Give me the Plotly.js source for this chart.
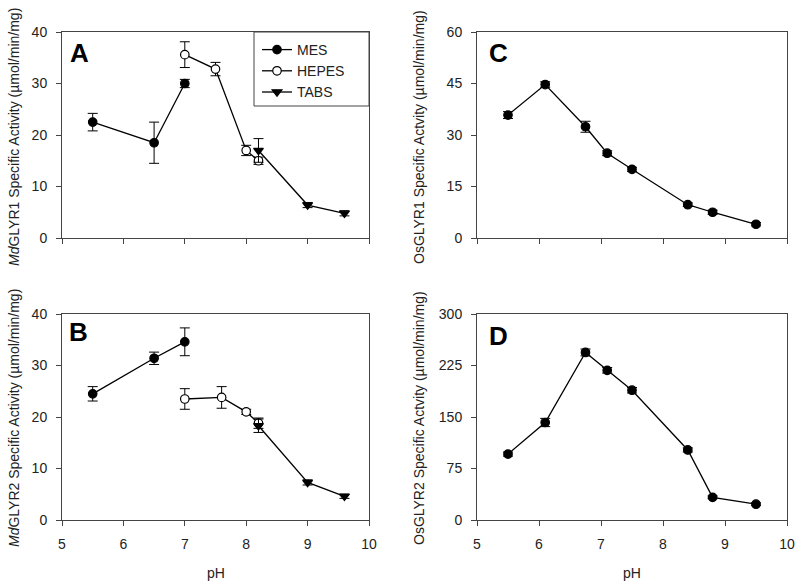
<!DOCTYPE html>
<html>
<head>
<meta charset="utf-8">
<script src="https://cdn.plot.ly/plotly-3.0.1.min.js"></script>
<style>html,body{margin:0;padding:0;background:#fff;}#chart{width:800px;height:586px;}</style>
</head>
<body>
<div id="chart"></div>
<script>
// ---- Panel A: MdGLYR1 ----
const A_mes_pH = [5.5, 6.5, 7.0];
const A_mes_val = [22.5, 18.5, 30.0];
const A_mes_err = [1.7, 4.0, 0.8];
const A_hepes_pH = [7.0, 7.5, 8.0, 8.2];
const A_hepes_val = [35.6, 32.8, 17.0, 15.0];
const A_hepes_err = [2.5, 1.3, 1.0, 0.7];
const A_tabs_pH = [8.2, 9.0, 9.6];
const A_tabs_val = [17.0, 6.4, 4.8];
const A_tabs_err = [2.3, 0.5, 0.5];

// ---- Panel B: MdGLYR2 ----
const B_mes_pH = [5.5, 6.5, 7.0];
const B_mes_val = [24.5, 31.4, 34.6];
const B_mes_err = [1.4, 1.2, 2.7];
const B_hepes_pH = [7.0, 7.6, 8.0, 8.2];
const B_hepes_val = [23.5, 23.8, 21.0, 18.8];
const B_hepes_err = [2.0, 2.1, 0.5, 1.0];
const B_tabs_pH = [8.2, 9.0, 9.6];
const B_tabs_val = [18.3, 7.3, 4.6];
const B_tabs_err = [1.3, 0.5, 0.4];

// ---- Panel C: OsGLYR1 ----
const C_pH = [5.5, 6.1, 6.75, 7.1, 7.5, 8.4, 8.8, 9.5];
const C_val = [35.8, 44.7, 32.4, 24.7, 20.0, 9.7, 7.5, 4.0];
const C_err = [1.0, 0.8, 1.6, 0.7, 0.6, 0.5, 0.6, 0.5];

// ---- Panel D: OsGLYR2 ----
const D_pH = [5.5, 6.1, 6.75, 7.1, 7.5, 8.4, 8.8, 9.5];
const D_val = [96, 142, 244, 218, 189, 102, 33, 23];
const D_err = [3, 6, 5, 4, 4, 3, 2, 2];

// ---- Axis ticks ----
const xTicks = [5, 6, 7, 8, 9, 10];
const yTicksA = [0, 10, 20, 30, 40];
const yTicksB = [0, 10, 20, 30, 40];
const yTicksC = [0, 15, 30, 45, 60];
const yTicksD = [0, 75, 150, 225, 300];

const legendNames = ['MES', 'HEPES', 'TABS'];

const LC = '#000';
function tr(x, y, e, xa, ya, sym, fill, name, show) {
  return {
    x: x, y: y, xaxis: xa, yaxis: ya, type: 'scatter', mode: 'lines+markers',
    name: name, showlegend: !!show, legendgroup: name,
    line: {color: LC, width: 1.3},
    marker: {symbol: sym, size: 8.5, color: fill, line: {color: LC, width: 1.2}},
    error_y: {type: 'data', array: e, visible: true, color: LC, thickness: 1, width: 5},
    cliponaxis: false
  };
}

const data = [
  tr(A_mes_pH, A_mes_val, A_mes_err, 'x', 'y', 'circle', '#000', legendNames[0], true),
  tr(A_hepes_pH, A_hepes_val, A_hepes_err, 'x', 'y', 'circle', '#fff', legendNames[1], true),
  tr(A_tabs_pH, A_tabs_val, A_tabs_err, 'x', 'y', 'triangle-down', '#000', legendNames[2], true),
  tr(B_mes_pH, B_mes_val, B_mes_err, 'x2', 'y2', 'circle', '#000', legendNames[0], false),
  tr(B_hepes_pH, B_hepes_val, B_hepes_err, 'x2', 'y2', 'circle', '#fff', legendNames[1], false),
  tr(B_tabs_pH, B_tabs_val, B_tabs_err, 'x2', 'y2', 'triangle-down', '#000', legendNames[2], false),
  tr(C_pH, C_val, C_err, 'x3', 'y3', 'circle', '#000', 'OsGLYR1', false),
  tr(D_pH, D_val, D_err, 'x4', 'y4', 'circle', '#000', 'OsGLYR2', false)
];

const FONT = 'Liberation Sans, Arial, sans-serif';
const axisCommon = {
  showline: true, mirror: true, linecolor: '#444', linewidth: 1,
  ticks: 'outside', ticklen: 5, tickcolor: '#444', tickwidth: 1,
  showgrid: false, zeroline: false, fixedrange: true,
  tickfont: {family: FONT, size: 14, color: '#222'}, ticklabelstandoff: 6
};
function xa(domain, anchor, labels) {
  return Object.assign({}, axisCommon, {
    domain: domain, anchor: anchor, range: [5, 10], tickmode: 'array',
    tickvals: xTicks, ticktext: xTicks.map(String), showticklabels: labels
  });
}
function ya(domain, anchor, ticks) {
  return Object.assign({}, axisCommon, {
    domain: domain, anchor: anchor, range: [ticks[0], ticks[ticks.length - 1]],
    tickmode: 'array', tickvals: ticks, ticktext: ticks.map(String)
  });
}

const xL = [62 / 800, 369 / 800];
const xR = [477 / 800, 787 / 800];
const yT = [1 - 238 / 586, 1 - 32 / 586];
const yB = [1 - 520 / 586, 1 - 314 / 586];

function ann(text, x, y, opts) {
  return Object.assign({
    text: text, x: x, y: y, xref: 'paper', yref: 'paper', showarrow: false,
    font: {family: FONT, size: 14, color: '#222'}, xanchor: 'center', yanchor: 'middle'
  }, opts || {});
}
const letterFont = {family: FONT, size: 26, color: '#000', weight: 'bold'};

const layout = {
  width: 800, height: 586,
  margin: {l: 0, r: 0, t: 0, b: 0},
  paper_bgcolor: '#fff', plot_bgcolor: '#fff',
  showlegend: true,
  legend: {
    x: 257 / 800, y: 1 - 34 / 586, xanchor: 'left', yanchor: 'top',
    borderwidth: 0, bgcolor: 'rgba(0,0,0,0)',
    font: {family: FONT, size: 14, color: '#222'},
    tracegroupgap: 0, itemclick: false, itemdoubleclick: false
  },
  shapes: [
    {type: 'rect', xref: 'paper', yref: 'paper', x0: 254 / 800, x1: 369 / 800,
     y0: 1 - 106 / 586, y1: 1 - 32 / 586, line: {color: '#444', width: 1}, fillcolor: '#fff', layer: 'below'}
  ],
  xaxis: xa(xL, 'y', false),
  yaxis: ya(yT, 'x', yTicksA),
  xaxis2: xa(xL, 'y2', true),
  yaxis2: ya(yB, 'x2', yTicksB),
  xaxis3: xa(xR, 'y3', false),
  yaxis3: ya(yT, 'x3', yTicksC),
  xaxis4: xa(xR, 'y4', true),
  yaxis4: ya(yB, 'x4', yTicksD),
  annotations: [
    ann('<i>Md</i>GLYR1 Specific Activity (µmol/min/mg)', 14 / 800, 1 - 137 / 586, {textangle: -90}),
    ann('<i>Md</i>GLYR2 Specific Activity (µmol/min/mg)', 14 / 800, 1 - 418 / 586, {textangle: -90}),
    ann('OsGLYR1 Specific Actvity (µmol/min/mg)', 419 / 800, 1 - 137 / 586, {textangle: -90}),
    ann('OsGLYR2 Specific Actvity (µmol/min/mg)', 419 / 800, 1 - 418 / 586, {textangle: -90}),
    ann('pH', 216 / 800, 1 - 573 / 586),
    ann('pH', 632 / 800, 1 - 573 / 586),
    ann('A', 68 / 800, 1 - 53 / 586, {xanchor: 'left', font: letterFont}),
    ann('B', 67 / 800, 1 - 332 / 586, {xanchor: 'left', font: letterFont}),
    ann('C', 487 / 800, 1 - 53 / 586, {xanchor: 'left', font: letterFont}),
    ann('D', 487 / 800, 1 - 336 / 586, {xanchor: 'left', font: letterFont})
  ]
};

Plotly.newPlot('chart', data, layout, {staticPlot: true, displayModeBar: false});
</script>
</body>
</html>
